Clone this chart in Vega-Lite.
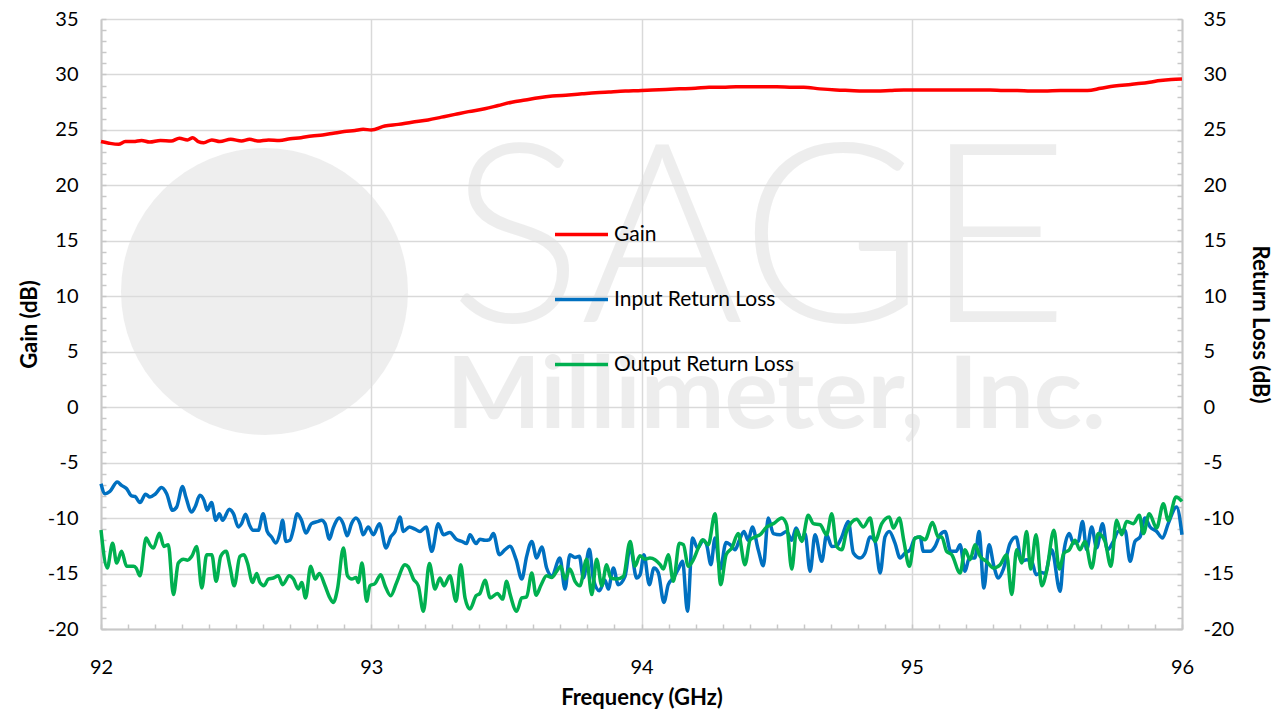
{
"$schema":"https://vega.github.io/schema/vega-lite/v6.json",
"width":1081,"height":610,
"autosize":{"type":"none"},
"padding":{"left":101,"top":19,"right":100,"bottom":86},
"background":"white",
"config":{"view":{"stroke":null},"font":"Lato"},
"datasets":{
"gain":[
{"f":92.0,"v":23.95,"s":"Gain"},{"f":92.03,"v":23.8,"s":"Gain"},{"f":92.065,"v":23.7,"s":"Gain"},{"f":92.09,"v":23.95,"s":"Gain"},{"f":92.12,"v":23.95,"s":"Gain"},{"f":92.15,"v":24.05,"s":"Gain"},{"f":92.18,"v":23.9,"s":"Gain"},{"f":92.22,"v":24.05,"s":"Gain"},{"f":92.26,"v":24.0,"s":"Gain"},{"f":92.29,"v":24.25,"s":"Gain"},{"f":92.32,"v":24.1,"s":"Gain"},{"f":92.34,"v":24.3,"s":"Gain"},{"f":92.36,"v":23.95,"s":"Gain"},{"f":92.38,"v":23.85,"s":"Gain"},{"f":92.41,"v":24.1,"s":"Gain"},{"f":92.44,"v":23.95,"s":"Gain"},{"f":92.48,"v":24.15,"s":"Gain"},{"f":92.52,"v":24.0,"s":"Gain"},{"f":92.55,"v":24.15,"s":"Gain"},{"f":92.58,"v":24.0,"s":"Gain"},{"f":92.62,"v":24.1,"s":"Gain"},{"f":92.66,"v":24.05,"s":"Gain"},{"f":92.7,"v":24.2,"s":"Gain"},{"f":92.74,"v":24.3,"s":"Gain"},{"f":92.78,"v":24.45,"s":"Gain"},{"f":92.82,"v":24.55,"s":"Gain"},{"f":92.86,"v":24.7,"s":"Gain"},{"f":92.9,"v":24.85,"s":"Gain"},{"f":92.94,"v":24.95,"s":"Gain"},{"f":92.97,"v":25.05,"s":"Gain"},{"f":93.0,"v":25.0,"s":"Gain"},{"f":93.05,"v":25.35,"s":"Gain"},{"f":93.1,"v":25.5,"s":"Gain"},{"f":93.15,"v":25.7,"s":"Gain"},{"f":93.21,"v":25.9,"s":"Gain"},{"f":93.26,"v":26.15,"s":"Gain"},{"f":93.31,"v":26.4,"s":"Gain"},{"f":93.36,"v":26.65,"s":"Gain"},{"f":93.42,"v":26.9,"s":"Gain"},{"f":93.47,"v":27.2,"s":"Gain"},{"f":93.52,"v":27.5,"s":"Gain"},{"f":93.57,"v":27.7,"s":"Gain"},{"f":93.62,"v":27.9,"s":"Gain"},{"f":93.67,"v":28.05,"s":"Gain"},{"f":93.73,"v":28.15,"s":"Gain"},{"f":93.78,"v":28.25,"s":"Gain"},{"f":93.83,"v":28.35,"s":"Gain"},{"f":93.88,"v":28.42,"s":"Gain"},{"f":93.94,"v":28.5,"s":"Gain"},{"f":94.0,"v":28.55,"s":"Gain"},{"f":94.04,"v":28.6,"s":"Gain"},{"f":94.09,"v":28.65,"s":"Gain"},{"f":94.14,"v":28.7,"s":"Gain"},{"f":94.2,"v":28.75,"s":"Gain"},{"f":94.25,"v":28.85,"s":"Gain"},{"f":94.3,"v":28.85,"s":"Gain"},{"f":94.35,"v":28.9,"s":"Gain"},{"f":94.4,"v":28.9,"s":"Gain"},{"f":94.45,"v":28.9,"s":"Gain"},{"f":94.5,"v":28.9,"s":"Gain"},{"f":94.56,"v":28.85,"s":"Gain"},{"f":94.6,"v":28.85,"s":"Gain"},{"f":94.66,"v":28.7,"s":"Gain"},{"f":94.72,"v":28.6,"s":"Gain"},{"f":94.77,"v":28.55,"s":"Gain"},{"f":94.82,"v":28.5,"s":"Gain"},{"f":94.87,"v":28.5,"s":"Gain"},{"f":94.92,"v":28.55,"s":"Gain"},{"f":94.97,"v":28.6,"s":"Gain"},{"f":95.03,"v":28.6,"s":"Gain"},{"f":95.08,"v":28.6,"s":"Gain"},{"f":95.13,"v":28.6,"s":"Gain"},{"f":95.18,"v":28.6,"s":"Gain"},{"f":95.24,"v":28.6,"s":"Gain"},{"f":95.29,"v":28.6,"s":"Gain"},{"f":95.34,"v":28.55,"s":"Gain"},{"f":95.39,"v":28.55,"s":"Gain"},{"f":95.44,"v":28.5,"s":"Gain"},{"f":95.49,"v":28.5,"s":"Gain"},{"f":95.55,"v":28.55,"s":"Gain"},{"f":95.6,"v":28.55,"s":"Gain"},{"f":95.65,"v":28.55,"s":"Gain"},{"f":95.7,"v":28.75,"s":"Gain"},{"f":95.75,"v":28.95,"s":"Gain"},{"f":95.81,"v":29.1,"s":"Gain"},{"f":95.85,"v":29.2,"s":"Gain"},{"f":95.88,"v":29.3,"s":"Gain"},{"f":95.92,"v":29.45,"s":"Gain"},{"f":95.96,"v":29.55,"s":"Gain"},{"f":96.0,"v":29.6,"s":"Gain"}
],
"rl":[
{"f":92.0,"v":-6.9,"s":"Input Return Loss"},{"f":92.015,"v":-7.8,"s":"Input Return Loss"},{"f":92.033,"v":-7.6,"s":"Input Return Loss"},{"f":92.06,"v":-6.75,"s":"Input Return Loss"},{"f":92.076,"v":-7.05,"s":"Input Return Loss"},{"f":92.095,"v":-7.35,"s":"Input Return Loss"},{"f":92.113,"v":-8.0,"s":"Input Return Loss"},{"f":92.126,"v":-8.05,"s":"Input Return Loss"},{"f":92.144,"v":-8.6,"s":"Input Return Loss"},{"f":92.165,"v":-7.85,"s":"Input Return Loss"},{"f":92.181,"v":-8.1,"s":"Input Return Loss"},{"f":92.2,"v":-7.85,"s":"Input Return Loss"},{"f":92.224,"v":-7.25,"s":"Input Return Loss"},{"f":92.243,"v":-7.8,"s":"Input Return Loss"},{"f":92.265,"v":-9.3,"s":"Input Return Loss"},{"f":92.28,"v":-9.0,"s":"Input Return Loss"},{"f":92.302,"v":-7.15,"s":"Input Return Loss"},{"f":92.314,"v":-8.1,"s":"Input Return Loss"},{"f":92.335,"v":-9.45,"s":"Input Return Loss"},{"f":92.348,"v":-9.0,"s":"Input Return Loss"},{"f":92.366,"v":-7.95,"s":"Input Return Loss"},{"f":92.381,"v":-8.4,"s":"Input Return Loss"},{"f":92.393,"v":-9.3,"s":"Input Return Loss"},{"f":92.409,"v":-8.6,"s":"Input Return Loss"},{"f":92.425,"v":-10.2,"s":"Input Return Loss"},{"f":92.438,"v":-9.6,"s":"Input Return Loss"},{"f":92.45,"v":-10.2,"s":"Input Return Loss"},{"f":92.475,"v":-9.2,"s":"Input Return Loss"},{"f":92.49,"v":-9.6,"s":"Input Return Loss"},{"f":92.508,"v":-10.8,"s":"Input Return Loss"},{"f":92.52,"v":-10.5,"s":"Input Return Loss"},{"f":92.535,"v":-9.65,"s":"Input Return Loss"},{"f":92.549,"v":-10.6,"s":"Input Return Loss"},{"f":92.563,"v":-11.1,"s":"Input Return Loss"},{"f":92.582,"v":-11.1,"s":"Input Return Loss"},{"f":92.6,"v":-9.6,"s":"Input Return Loss"},{"f":92.615,"v":-11.2,"s":"Input Return Loss"},{"f":92.631,"v":-11.7,"s":"Input Return Loss"},{"f":92.647,"v":-12.25,"s":"Input Return Loss"},{"f":92.662,"v":-11.35,"s":"Input Return Loss"},{"f":92.672,"v":-10.2,"s":"Input Return Loss"},{"f":92.684,"v":-12.1,"s":"Input Return Loss"},{"f":92.699,"v":-12.0,"s":"Input Return Loss"},{"f":92.711,"v":-11.1,"s":"Input Return Loss"},{"f":92.726,"v":-9.6,"s":"Input Return Loss"},{"f":92.742,"v":-10.2,"s":"Input Return Loss"},{"f":92.758,"v":-11.35,"s":"Input Return Loss"},{"f":92.779,"v":-10.5,"s":"Input Return Loss"},{"f":92.804,"v":-10.3,"s":"Input Return Loss"},{"f":92.816,"v":-10.2,"s":"Input Return Loss"},{"f":92.829,"v":-10.5,"s":"Input Return Loss"},{"f":92.845,"v":-11.9,"s":"Input Return Loss"},{"f":92.859,"v":-10.9,"s":"Input Return Loss"},{"f":92.882,"v":-10.0,"s":"Input Return Loss"},{"f":92.896,"v":-10.5,"s":"Input Return Loss"},{"f":92.911,"v":-11.6,"s":"Input Return Loss"},{"f":92.927,"v":-10.5,"s":"Input Return Loss"},{"f":92.943,"v":-10.0,"s":"Input Return Loss"},{"f":92.958,"v":-10.5,"s":"Input Return Loss"},{"f":92.97,"v":-11.5,"s":"Input Return Loss"},{"f":92.989,"v":-10.8,"s":"Input Return Loss"},
{"f":93.008,"v":-11.5,"s":"Input Return Loss"},{"f":93.03,"v":-10.5,"s":"Input Return Loss"},{"f":93.055,"v":-12.7,"s":"Input Return Loss"},{"f":93.072,"v":-11.7,"s":"Input Return Loss"},{"f":93.088,"v":-11.2,"s":"Input Return Loss"},{"f":93.106,"v":-9.9,"s":"Input Return Loss"},{"f":93.119,"v":-11.2,"s":"Input Return Loss"},{"f":93.141,"v":-10.8,"s":"Input Return Loss"},{"f":93.162,"v":-11.0,"s":"Input Return Loss"},{"f":93.18,"v":-11.2,"s":"Input Return Loss"},{"f":93.203,"v":-10.8,"s":"Input Return Loss"},{"f":93.224,"v":-13.0,"s":"Input Return Loss"},{"f":93.248,"v":-10.5,"s":"Input Return Loss"},{"f":93.267,"v":-11.5,"s":"Input Return Loss"},{"f":93.291,"v":-11.3,"s":"Input Return Loss"},{"f":93.314,"v":-11.9,"s":"Input Return Loss"},{"f":93.335,"v":-12.1,"s":"Input Return Loss"},{"f":93.353,"v":-12.3,"s":"Input Return Loss"},{"f":93.365,"v":-11.5,"s":"Input Return Loss"},{"f":93.388,"v":-12.3,"s":"Input Return Loss"},{"f":93.402,"v":-11.9,"s":"Input Return Loss"},{"f":93.421,"v":-12.0,"s":"Input Return Loss"},{"f":93.437,"v":-11.95,"s":"Input Return Loss"},{"f":93.452,"v":-11.4,"s":"Input Return Loss"},{"f":93.474,"v":-13.3,"s":"Input Return Loss"},{"f":93.495,"v":-12.85,"s":"Input Return Loss"},{"f":93.513,"v":-12.55,"s":"Input Return Loss"},{"f":93.536,"v":-13.75,"s":"Input Return Loss"},{"f":93.557,"v":-15.5,"s":"Input Return Loss"},{"f":93.575,"v":-13.45,"s":"Input Return Loss"},{"f":93.594,"v":-12.1,"s":"Input Return Loss"},{"f":93.612,"v":-13.6,"s":"Input Return Loss"},{"f":93.631,"v":-12.6,"s":"Input Return Loss"},{"f":93.649,"v":-14.5,"s":"Input Return Loss"},{"f":93.668,"v":-15.2,"s":"Input Return Loss"},{"f":93.698,"v":-13.6,"s":"Input Return Loss"},{"f":93.717,"v":-16.4,"s":"Input Return Loss"},{"f":93.735,"v":-13.3,"s":"Input Return Loss"},{"f":93.754,"v":-13.55,"s":"Input Return Loss"},{"f":93.77,"v":-13.45,"s":"Input Return Loss"},{"f":93.785,"v":-15.4,"s":"Input Return Loss"},{"f":93.807,"v":-12.8,"s":"Input Return Loss"},{"f":93.822,"v":-15.5,"s":"Input Return Loss"},{"f":93.844,"v":-16.55,"s":"Input Return Loss"},{"f":93.865,"v":-15.6,"s":"Input Return Loss"},{"f":93.877,"v":-16.4,"s":"Input Return Loss"},{"f":93.896,"v":-14.5,"s":"Input Return Loss"},{"f":93.914,"v":-16.0,"s":"Input Return Loss"},{"f":93.939,"v":-15.25,"s":"Input Return Loss"},{"f":93.958,"v":-12.6,"s":"Input Return Loss"},{"f":93.982,"v":-15.4,"s":"Input Return Loss"},
{"f":93.995,"v":-15.1,"s":"Input Return Loss"},{"f":94.009,"v":-13.3,"s":"Input Return Loss"},{"f":94.029,"v":-16.0,"s":"Input Return Loss"},{"f":94.046,"v":-14.5,"s":"Input Return Loss"},{"f":94.062,"v":-14.9,"s":"Input Return Loss"},{"f":94.083,"v":-17.6,"s":"Input Return Loss"},{"f":94.099,"v":-16.0,"s":"Input Return Loss"},{"f":94.118,"v":-15.4,"s":"Input Return Loss"},{"f":94.136,"v":-14.6,"s":"Input Return Loss"},{"f":94.152,"v":-13.9,"s":"Input Return Loss"},{"f":94.17,"v":-18.4,"s":"Input Return Loss"},{"f":94.189,"v":-11.8,"s":"Input Return Loss"},{"f":94.207,"v":-12.7,"s":"Input Return Loss"},{"f":94.229,"v":-12.0,"s":"Input Return Loss"},{"f":94.241,"v":-12.4,"s":"Input Return Loss"},{"f":94.257,"v":-14.2,"s":"Input Return Loss"},{"f":94.272,"v":-11.8,"s":"Input Return Loss"},{"f":94.291,"v":-14.6,"s":"Input Return Loss"},{"f":94.313,"v":-12.2,"s":"Input Return Loss"},{"f":94.328,"v":-12.4,"s":"Input Return Loss"},{"f":94.346,"v":-12.86,"s":"Input Return Loss"},{"f":94.362,"v":-12.0,"s":"Input Return Loss"},{"f":94.379,"v":-11.2,"s":"Input Return Loss"},{"f":94.395,"v":-12.0,"s":"Input Return Loss"},{"f":94.41,"v":-10.8,"s":"Input Return Loss"},{"f":94.432,"v":-12.86,"s":"Input Return Loss"},{"f":94.451,"v":-14.3,"s":"Input Return Loss"},{"f":94.469,"v":-10.0,"s":"Input Return Loss"},{"f":94.488,"v":-11.4,"s":"Input Return Loss"},{"f":94.513,"v":-11.5,"s":"Input Return Loss"},{"f":94.537,"v":-11.2,"s":"Input Return Loss"},{"f":94.556,"v":-12.0,"s":"Input Return Loss"},{"f":94.572,"v":-10.9,"s":"Input Return Loss"},{"f":94.593,"v":-12.0,"s":"Input Return Loss"},{"f":94.605,"v":-11.4,"s":"Input Return Loss"},{"f":94.624,"v":-14.8,"s":"Input Return Loss"},{"f":94.642,"v":-11.5,"s":"Input Return Loss"},{"f":94.667,"v":-13.9,"s":"Input Return Loss"},{"f":94.685,"v":-11.5,"s":"Input Return Loss"},{"f":94.704,"v":-12.56,"s":"Input Return Loss"},{"f":94.722,"v":-12.5,"s":"Input Return Loss"},{"f":94.741,"v":-11.7,"s":"Input Return Loss"},{"f":94.765,"v":-10.3,"s":"Input Return Loss"},{"f":94.784,"v":-13.15,"s":"Input Return Loss"},{"f":94.809,"v":-13.6,"s":"Input Return Loss"},{"f":94.827,"v":-13.15,"s":"Input Return Loss"},{"f":94.846,"v":-11.7,"s":"Input Return Loss"},{"f":94.864,"v":-12.1,"s":"Input Return Loss"},{"f":94.883,"v":-14.95,"s":"Input Return Loss"},{"f":94.901,"v":-11.7,"s":"Input Return Loss"},{"f":94.917,"v":-11.2,"s":"Input Return Loss"},{"f":94.938,"v":-12.26,"s":"Input Return Loss"},{"f":94.957,"v":-13.6,"s":"Input Return Loss"},{"f":94.975,"v":-13.15,"s":"Input Return Loss"},{"f":94.994,"v":-12.86,"s":"Input Return Loss"},
{"f":95.012,"v":-11.8,"s":"Input Return Loss"},{"f":95.031,"v":-11.7,"s":"Input Return Loss"},{"f":95.043,"v":-13.0,"s":"Input Return Loss"},{"f":95.068,"v":-13.0,"s":"Input Return Loss"},{"f":95.086,"v":-12.56,"s":"Input Return Loss"},{"f":95.105,"v":-11.5,"s":"Input Return Loss"},{"f":95.123,"v":-11.2,"s":"Input Return Loss"},{"f":95.144,"v":-13.0,"s":"Input Return Loss"},{"f":95.164,"v":-13.0,"s":"Input Return Loss"},{"f":95.179,"v":-12.4,"s":"Input Return Loss"},{"f":95.197,"v":-14.8,"s":"Input Return Loss"},{"f":95.213,"v":-13.6,"s":"Input Return Loss"},{"f":95.234,"v":-13.6,"s":"Input Return Loss"},{"f":95.249,"v":-11.2,"s":"Input Return Loss"},{"f":95.267,"v":-16.3,"s":"Input Return Loss"},{"f":95.286,"v":-12.4,"s":"Input Return Loss"},{"f":95.304,"v":-14.35,"s":"Input Return Loss"},{"f":95.32,"v":-15.4,"s":"Input Return Loss"},{"f":95.339,"v":-14.6,"s":"Input Return Loss"},{"f":95.364,"v":-12.26,"s":"Input Return Loss"},{"f":95.386,"v":-11.7,"s":"Input Return Loss"},{"f":95.407,"v":-13.9,"s":"Input Return Loss"},{"f":95.425,"v":-13.75,"s":"Input Return Loss"},{"f":95.444,"v":-13.9,"s":"Input Return Loss"},{"f":95.46,"v":-15.1,"s":"Input Return Loss"},{"f":95.481,"v":-14.9,"s":"Input Return Loss"},{"f":95.493,"v":-15.0,"s":"Input Return Loss"},{"f":95.518,"v":-12.86,"s":"Input Return Loss"},{"f":95.549,"v":-16.6,"s":"Input Return Loss"},{"f":95.563,"v":-13.0,"s":"Input Return Loss"},{"f":95.583,"v":-11.4,"s":"Input Return Loss"},{"f":95.598,"v":-12.26,"s":"Input Return Loss"},{"f":95.616,"v":-12.1,"s":"Input Return Loss"},{"f":95.632,"v":-10.3,"s":"Input Return Loss"},{"f":95.647,"v":-12.86,"s":"Input Return Loss"},{"f":95.666,"v":-10.8,"s":"Input Return Loss"},{"f":95.684,"v":-12.7,"s":"Input Return Loss"},{"f":95.706,"v":-10.5,"s":"Input Return Loss"},{"f":95.724,"v":-12.86,"s":"Input Return Loss"},{"f":95.746,"v":-12.1,"s":"Input Return Loss"},{"f":95.764,"v":-11.2,"s":"Input Return Loss"},{"f":95.789,"v":-11.1,"s":"Input Return Loss"},{"f":95.808,"v":-13.9,"s":"Input Return Loss"},{"f":95.826,"v":-12.1,"s":"Input Return Loss"},{"f":95.845,"v":-11.7,"s":"Input Return Loss"},{"f":95.863,"v":-10.0,"s":"Input Return Loss"},{"f":95.882,"v":-10.8,"s":"Input Return Loss"},{"f":95.906,"v":-11.2,"s":"Input Return Loss"},{"f":95.928,"v":-11.8,"s":"Input Return Loss"},{"f":95.949,"v":-10.5,"s":"Input Return Loss"},{"f":95.98,"v":-9.0,"s":"Input Return Loss"},{"f":96.0,"v":-11.5,"s":"Input Return Loss"},
{"f":92.0,"v":-11.07,"s":"Output Return Loss"},{"f":92.023,"v":-14.5,"s":"Output Return Loss"},{"f":92.043,"v":-12.26,"s":"Output Return Loss"},{"f":92.058,"v":-14.05,"s":"Output Return Loss"},{"f":92.076,"v":-13.0,"s":"Output Return Loss"},{"f":92.095,"v":-14.35,"s":"Output Return Loss"},{"f":92.12,"v":-14.35,"s":"Output Return Loss"},{"f":92.13,"v":-14.5,"s":"Output Return Loss"},{"f":92.144,"v":-15.2,"s":"Output Return Loss"},{"f":92.167,"v":-11.8,"s":"Output Return Loss"},{"f":92.181,"v":-12.4,"s":"Output Return Loss"},{"f":92.194,"v":-12.7,"s":"Output Return Loss"},{"f":92.216,"v":-11.37,"s":"Output Return Loss"},{"f":92.233,"v":-12.56,"s":"Output Return Loss"},{"f":92.249,"v":-12.4,"s":"Output Return Loss"},{"f":92.268,"v":-16.9,"s":"Output Return Loss"},{"f":92.286,"v":-14.05,"s":"Output Return Loss"},{"f":92.305,"v":-13.7,"s":"Output Return Loss"},{"f":92.32,"v":-13.8,"s":"Output Return Loss"},{"f":92.336,"v":-13.45,"s":"Output Return Loss"},{"f":92.354,"v":-12.56,"s":"Output Return Loss"},{"f":92.373,"v":-16.3,"s":"Output Return Loss"},{"f":92.391,"v":-13.3,"s":"Output Return Loss"},{"f":92.41,"v":-13.3,"s":"Output Return Loss"},{"f":92.426,"v":-15.7,"s":"Output Return Loss"},{"f":92.443,"v":-13.45,"s":"Output Return Loss"},{"f":92.463,"v":-13.0,"s":"Output Return Loss"},{"f":92.477,"v":-14.35,"s":"Output Return Loss"},{"f":92.493,"v":-16.1,"s":"Output Return Loss"},{"f":92.514,"v":-13.45,"s":"Output Return Loss"},{"f":92.529,"v":-13.3,"s":"Output Return Loss"},{"f":92.542,"v":-14.05,"s":"Output Return Loss"},{"f":92.561,"v":-15.8,"s":"Output Return Loss"},{"f":92.576,"v":-15.0,"s":"Output Return Loss"},{"f":92.588,"v":-15.8,"s":"Output Return Loss"},{"f":92.603,"v":-16.1,"s":"Output Return Loss"},{"f":92.619,"v":-15.5,"s":"Output Return Loss"},{"f":92.638,"v":-15.4,"s":"Output Return Loss"},{"f":92.656,"v":-15.2,"s":"Output Return Loss"},{"f":92.672,"v":-16.0,"s":"Output Return Loss"},{"f":92.697,"v":-15.2,"s":"Output Return Loss"},{"f":92.712,"v":-15.5,"s":"Output Return Loss"},{"f":92.73,"v":-16.4,"s":"Output Return Loss"},{"f":92.743,"v":-15.8,"s":"Output Return Loss"},{"f":92.757,"v":-17.2,"s":"Output Return Loss"},{"f":92.776,"v":-14.35,"s":"Output Return Loss"},{"f":92.792,"v":-15.5,"s":"Output Return Loss"},{"f":92.808,"v":-15.0,"s":"Output Return Loss"},{"f":92.829,"v":-16.1,"s":"Output Return Loss"},{"f":92.847,"v":-17.2,"s":"Output Return Loss"},{"f":92.86,"v":-17.6,"s":"Output Return Loss"},{"f":92.875,"v":-16.4,"s":"Output Return Loss"},{"f":92.897,"v":-12.7,"s":"Output Return Loss"},{"f":92.912,"v":-15.2,"s":"Output Return Loss"},{"f":92.928,"v":-15.5,"s":"Output Return Loss"},{"f":92.944,"v":-15.35,"s":"Output Return Loss"},{"f":92.952,"v":-15.8,"s":"Output Return Loss"},{"f":92.966,"v":-14.05,"s":"Output Return Loss"},{"f":92.983,"v":-17.5,"s":"Output Return Loss"},
{"f":92.995,"v":-16.1,"s":"Output Return Loss"},{"f":93.014,"v":-15.9,"s":"Output Return Loss"},{"f":93.035,"v":-15.1,"s":"Output Return Loss"},{"f":93.051,"v":-16.1,"s":"Output Return Loss"},{"f":93.072,"v":-17.0,"s":"Output Return Loss"},{"f":93.094,"v":-15.8,"s":"Output Return Loss"},{"f":93.125,"v":-14.2,"s":"Output Return Loss"},{"f":93.137,"v":-14.4,"s":"Output Return Loss"},{"f":93.156,"v":-15.5,"s":"Output Return Loss"},{"f":93.174,"v":-16.1,"s":"Output Return Loss"},{"f":93.193,"v":-18.4,"s":"Output Return Loss"},{"f":93.215,"v":-14.1,"s":"Output Return Loss"},{"f":93.236,"v":-16.4,"s":"Output Return Loss"},{"f":93.254,"v":-15.4,"s":"Output Return Loss"},{"f":93.269,"v":-16.1,"s":"Output Return Loss"},{"f":93.291,"v":-15.2,"s":"Output Return Loss"},{"f":93.314,"v":-17.5,"s":"Output Return Loss"},{"f":93.331,"v":-14.2,"s":"Output Return Loss"},{"f":93.347,"v":-17.2,"s":"Output Return Loss"},{"f":93.365,"v":-18.2,"s":"Output Return Loss"},{"f":93.388,"v":-17.0,"s":"Output Return Loss"},{"f":93.402,"v":-16.8,"s":"Output Return Loss"},{"f":93.421,"v":-15.6,"s":"Output Return Loss"},{"f":93.44,"v":-17.2,"s":"Output Return Loss"},{"f":93.467,"v":-16.8,"s":"Output Return Loss"},{"f":93.486,"v":-17.3,"s":"Output Return Loss"},{"f":93.501,"v":-15.7,"s":"Output Return Loss"},{"f":93.513,"v":-16.8,"s":"Output Return Loss"},{"f":93.538,"v":-18.4,"s":"Output Return Loss"},{"f":93.557,"v":-17.2,"s":"Output Return Loss"},{"f":93.575,"v":-17.1,"s":"Output Return Loss"},{"f":93.594,"v":-14.95,"s":"Output Return Loss"},{"f":93.61,"v":-16.95,"s":"Output Return Loss"},{"f":93.627,"v":-16.1,"s":"Output Return Loss"},{"f":93.649,"v":-15.2,"s":"Output Return Loss"},{"f":93.668,"v":-15.35,"s":"Output Return Loss"},{"f":93.686,"v":-14.8,"s":"Output Return Loss"},{"f":93.701,"v":-14.35,"s":"Output Return Loss"},{"f":93.717,"v":-15.5,"s":"Output Return Loss"},{"f":93.735,"v":-14.6,"s":"Output Return Loss"},{"f":93.754,"v":-15.7,"s":"Output Return Loss"},{"f":93.772,"v":-16.1,"s":"Output Return Loss"},{"f":93.797,"v":-13.7,"s":"Output Return Loss"},{"f":93.816,"v":-16.9,"s":"Output Return Loss"},{"f":93.834,"v":-13.7,"s":"Output Return Loss"},{"f":93.853,"v":-16.1,"s":"Output Return Loss"},{"f":93.871,"v":-14.2,"s":"Output Return Loss"},{"f":93.886,"v":-15.4,"s":"Output Return Loss"},{"f":93.908,"v":-15.5,"s":"Output Return Loss"},{"f":93.933,"v":-15.25,"s":"Output Return Loss"},{"f":93.958,"v":-12.1,"s":"Output Return Loss"},{"f":93.976,"v":-14.35,"s":"Output Return Loss"},{"f":93.994,"v":-13.4,"s":"Output Return Loss"},
{"f":94.013,"v":-13.7,"s":"Output Return Loss"},{"f":94.031,"v":-13.6,"s":"Output Return Loss"},{"f":94.05,"v":-13.75,"s":"Output Return Loss"},{"f":94.069,"v":-14.2,"s":"Output Return Loss"},{"f":94.081,"v":-14.6,"s":"Output Return Loss"},{"f":94.099,"v":-13.3,"s":"Output Return Loss"},{"f":94.118,"v":-15.7,"s":"Output Return Loss"},{"f":94.14,"v":-12.26,"s":"Output Return Loss"},{"f":94.155,"v":-12.4,"s":"Output Return Loss"},{"f":94.173,"v":-14.35,"s":"Output Return Loss"},{"f":94.192,"v":-13.75,"s":"Output Return Loss"},{"f":94.21,"v":-12.7,"s":"Output Return Loss"},{"f":94.226,"v":-11.96,"s":"Output Return Loss"},{"f":94.247,"v":-12.4,"s":"Output Return Loss"},{"f":94.272,"v":-9.6,"s":"Output Return Loss"},{"f":94.293,"v":-16.0,"s":"Output Return Loss"},{"f":94.313,"v":-13.3,"s":"Output Return Loss"},{"f":94.334,"v":-12.7,"s":"Output Return Loss"},{"f":94.358,"v":-11.4,"s":"Output Return Loss"},{"f":94.383,"v":-14.2,"s":"Output Return Loss"},{"f":94.402,"v":-11.96,"s":"Output Return Loss"},{"f":94.42,"v":-11.7,"s":"Output Return Loss"},{"f":94.439,"v":-11.5,"s":"Output Return Loss"},{"f":94.463,"v":-10.8,"s":"Output Return Loss"},{"f":94.488,"v":-10.5,"s":"Output Return Loss"},{"f":94.519,"v":-10.0,"s":"Output Return Loss"},{"f":94.537,"v":-10.6,"s":"Output Return Loss"},{"f":94.556,"v":-14.6,"s":"Output Return Loss"},{"f":94.574,"v":-11.1,"s":"Output Return Loss"},{"f":94.593,"v":-12.1,"s":"Output Return Loss"},{"f":94.617,"v":-9.75,"s":"Output Return Loss"},{"f":94.636,"v":-10.5,"s":"Output Return Loss"},{"f":94.661,"v":-10.6,"s":"Output Return Loss"},{"f":94.685,"v":-11.5,"s":"Output Return Loss"},{"f":94.704,"v":-9.6,"s":"Output Return Loss"},{"f":94.722,"v":-12.56,"s":"Output Return Loss"},{"f":94.741,"v":-12.86,"s":"Output Return Loss"},{"f":94.759,"v":-11.2,"s":"Output Return Loss"},{"f":94.796,"v":-10.1,"s":"Output Return Loss"},{"f":94.821,"v":-10.8,"s":"Output Return Loss"},{"f":94.846,"v":-10.0,"s":"Output Return Loss"},{"f":94.864,"v":-12.1,"s":"Output Return Loss"},{"f":94.889,"v":-10.5,"s":"Output Return Loss"},{"f":94.917,"v":-9.9,"s":"Output Return Loss"},{"f":94.932,"v":-10.9,"s":"Output Return Loss"},{"f":94.954,"v":-10.0,"s":"Output Return Loss"},{"f":94.971,"v":-12.1,"s":"Output Return Loss"},{"f":94.991,"v":-14.35,"s":"Output Return Loss"},
{"f":95.012,"v":-11.8,"s":"Output Return Loss"},{"f":95.031,"v":-11.7,"s":"Output Return Loss"},{"f":95.049,"v":-11.96,"s":"Output Return Loss"},{"f":95.077,"v":-10.4,"s":"Output Return Loss"},{"f":95.098,"v":-11.7,"s":"Output Return Loss"},{"f":95.111,"v":-11.7,"s":"Output Return Loss"},{"f":95.129,"v":-13.0,"s":"Output Return Loss"},{"f":95.148,"v":-13.3,"s":"Output Return Loss"},{"f":95.179,"v":-14.95,"s":"Output Return Loss"},{"f":95.197,"v":-12.86,"s":"Output Return Loss"},{"f":95.216,"v":-13.75,"s":"Output Return Loss"},{"f":95.234,"v":-12.4,"s":"Output Return Loss"},{"f":95.253,"v":-13.45,"s":"Output Return Loss"},{"f":95.277,"v":-13.9,"s":"Output Return Loss"},{"f":95.302,"v":-14.5,"s":"Output Return Loss"},{"f":95.327,"v":-14.2,"s":"Output Return Loss"},{"f":95.351,"v":-13.3,"s":"Output Return Loss"},{"f":95.37,"v":-16.9,"s":"Output Return Loss"},{"f":95.388,"v":-12.86,"s":"Output Return Loss"},{"f":95.407,"v":-14.05,"s":"Output Return Loss"},{"f":95.425,"v":-11.2,"s":"Output Return Loss"},{"f":95.44,"v":-14.6,"s":"Output Return Loss"},{"f":95.46,"v":-11.5,"s":"Output Return Loss"},{"f":95.481,"v":-16.1,"s":"Output Return Loss"},{"f":95.499,"v":-14.8,"s":"Output Return Loss"},{"f":95.526,"v":-11.1,"s":"Output Return Loss"},{"f":95.546,"v":-14.6,"s":"Output Return Loss"},{"f":95.563,"v":-13.15,"s":"Output Return Loss"},{"f":95.583,"v":-12.86,"s":"Output Return Loss"},{"f":95.604,"v":-12.0,"s":"Output Return Loss"},{"f":95.622,"v":-12.86,"s":"Output Return Loss"},{"f":95.641,"v":-12.1,"s":"Output Return Loss"},{"f":95.666,"v":-14.5,"s":"Output Return Loss"},{"f":95.69,"v":-11.4,"s":"Output Return Loss"},{"f":95.715,"v":-12.1,"s":"Output Return Loss"},{"f":95.737,"v":-14.35,"s":"Output Return Loss"},{"f":95.758,"v":-10.2,"s":"Output Return Loss"},{"f":95.777,"v":-11.5,"s":"Output Return Loss"},{"f":95.795,"v":-10.3,"s":"Output Return Loss"},{"f":95.82,"v":-10.5,"s":"Output Return Loss"},{"f":95.842,"v":-9.75,"s":"Output Return Loss"},{"f":95.857,"v":-11.4,"s":"Output Return Loss"},{"f":95.879,"v":-9.6,"s":"Output Return Loss"},{"f":95.906,"v":-10.9,"s":"Output Return Loss"},{"f":95.931,"v":-8.7,"s":"Output Return Loss"},{"f":95.949,"v":-10.2,"s":"Output Return Loss"},{"f":95.978,"v":-8.1,"s":"Output Return Loss"},{"f":96.0,"v":-8.5,"s":"Output Return Loss"}
]
},
"resolve":{"scale":{"y":"shared","x":"shared","color":"shared"},"axis":{"y":"independent","x":"independent"}},
"layer":[
{"data":{"values":[{}]},
 "mark":{"type":"point","shape":"circle","filled":true,"color":"#dddddd","opacity":0.5,"size":82369,"strokeWidth":0},
 "encoding":{"x":{"datum":92.605,"type":"quantitative","scale":{"domain":[92,96],"nice":false},"axis":null},"y":{"datum":10.43,"type":"quantitative","scale":{"domain":[-20,35],"nice":false},"axis":null}}},
{"data":{"values":[{}]},
 "mark":{"type":"text","text":"SAGE","font":"Lato","fontWeight":300,"fontSize":250,"align":"center","baseline":"alphabetic","color":"#dddddd","opacity":0.5},
 "encoding":{"x":{"datum":94.435,"type":"quantitative","scale":{"domain":[92,96],"nice":false},"axis":null},"y":{"datum":7.68,"type":"quantitative","scale":{"domain":[-20,35],"nice":false},"axis":null}}},
{"data":{"values":[{}]},
 "mark":{"type":"text","text":"Millimeter, Inc.","font":"Lato","fontWeight":"bold","fontSize":100,"align":"center","baseline":"alphabetic","color":"#dddddd","opacity":0.5},
 "encoding":{"x":{"datum":94.498,"type":"quantitative","scale":{"domain":[92,96],"nice":false},"axis":null},"y":{"datum":-1.88,"type":"quantitative","scale":{"domain":[-20,35],"nice":false},"axis":null}}},
{"data":{"name":"gain"},
 "mark":{"type":"line","strokeWidth":3.5,"interpolate":"monotone"},
 "encoding":{
  "x":{"field":"f","type":"quantitative","scale":{"domain":[92,96],"nice":false},
   "axis":{"orient":"bottom","title":"Frequency (GHz)","values":[92,92.1,92.2,92.3,92.4,92.5,92.6,92.7,92.8,92.9,93,93.1,93.2,93.3,93.4,93.5,93.6,93.7,93.8,93.9,94,94.1,94.2,94.3,94.4,94.5,94.6,94.7,94.8,94.9,95,95.1,95.2,95.3,95.4,95.5,95.6,95.7,95.8,95.9,96],
    "labelExpr":"abs(datum.value - round(datum.value)) < 0.001 ? '' + round(datum.value) : ''",
    "grid":true,"gridColor":"#d9d9d9","gridWidth":1.5,
    "gridOpacity":{"condition":{"test":"abs(datum.value - round(datum.value)) < 0.001","value":1},"value":0},
    "tickSize":-5,"tickColor":"#c8c8c8","tickWidth":1.5,"domainColor":"#c8c8c8","domainWidth":2,
    "labelPadding":33,"labelFontSize":20,"labelFont":"Lato","labelColor":"#000000","labelOverlap":false,"labelFlush":false,"labelBound":false,
    "titleFont":"Lato","titleFontSize":22,"titleFontWeight":"bold","titleColor":"#000000","titlePadding":10}},
  "y":{"field":"v","type":"quantitative","scale":{"domain":[-20,35],"nice":false},
   "axis":{"orient":"left","title":"Gain (dB)","values":[-20,-19,-18,-17,-16,-15,-14,-13,-12,-11,-10,-9,-8,-7,-6,-5,-4,-3,-2,-1,0,1,2,3,4,5,6,7,8,9,10,11,12,13,14,15,16,17,18,19,20,21,22,23,24,25,26,27,28,29,30,31,32,33,34,35],
    "labelExpr":"datum.value % 5 === 0 ? '' + datum.value : ''",
    "grid":true,"gridColor":"#d9d9d9","gridWidth":1.5,
    "gridOpacity":{"condition":{"test":"datum.value % 5 === 0","value":1},"value":0},
    "tickSize":-5,"tickColor":"#c8c8c8","tickWidth":1.5,"domainColor":"#c8c8c8","domainWidth":2,
    "labelPadding":28,"labelFontSize":20,"labelFont":"Lato","labelColor":"#000000","labelOverlap":false,"labelFlush":false,"labelBound":false,
    "titleFont":"Lato","titleFontSize":22,"titleFontWeight":"bold","titleColor":"#000000","titlePadding":6}},
  "color":{"field":"s","type":"nominal","scale":{"domain":["Gain","Input Return Loss","Output Return Loss"],"range":["#ff0000","#0070c0","#00b050"]},
   "legend":{"orient":"none","legendX":452,"legendY":187,"title":null,"symbolType":"stroke","symbolSize":2809,"symbolStrokeWidth":3.5,"labelFontSize":21,"labelFont":"Lato","labelColor":"#000000","labelOffset":4,"rowPadding":26,"padding":0,"direction":"vertical","labelLimit":400}}
 }},
{"data":{"name":"rl"},
 "mark":{"type":"line","strokeWidth":3.5,"interpolate":"monotone"},
 "encoding":{
  "x":{"field":"f","type":"quantitative","scale":{"domain":[92,96],"nice":false},"axis":null},
  "y":{"field":"v","type":"quantitative","scale":{"domain":[-20,35],"nice":false},
   "axis":{"orient":"right","title":"Return Loss (dB)","values":[-20,-19,-18,-17,-16,-15,-14,-13,-12,-11,-10,-9,-8,-7,-6,-5,-4,-3,-2,-1,0,1,2,3,4,5,6,7,8,9,10,11,12,13,14,15,16,17,18,19,20,21,22,23,24,25,26,27,28,29,30,31,32,33,34,35],
    "labelExpr":"datum.value % 5 === 0 ? '' + datum.value : ''",
    "grid":false,
    "tickSize":-5,"tickColor":"#c8c8c8","tickWidth":1.5,"domainColor":"#c8c8c8","domainWidth":2,
    "labelPadding":26,"labelFontSize":20,"labelFont":"Lato","labelColor":"#000000","labelOverlap":false,"labelFlush":false,"labelBound":false,
    "titleFont":"Lato","titleFontSize":22,"titleFontWeight":"bold","titleColor":"#000000","titlePadding":14}},
  "color":{"field":"s","type":"nominal","scale":{"domain":["Gain","Input Return Loss","Output Return Loss"],"range":["#ff0000","#0070c0","#00b050"]},
   "legend":{"orient":"none","legendX":452,"legendY":187,"title":null,"symbolType":"stroke","symbolSize":2809,"symbolStrokeWidth":3.5,"labelFontSize":21,"labelFont":"Lato","labelColor":"#000000","labelOffset":4,"rowPadding":26,"padding":0,"direction":"vertical","labelLimit":400}}
 }}
]
}
